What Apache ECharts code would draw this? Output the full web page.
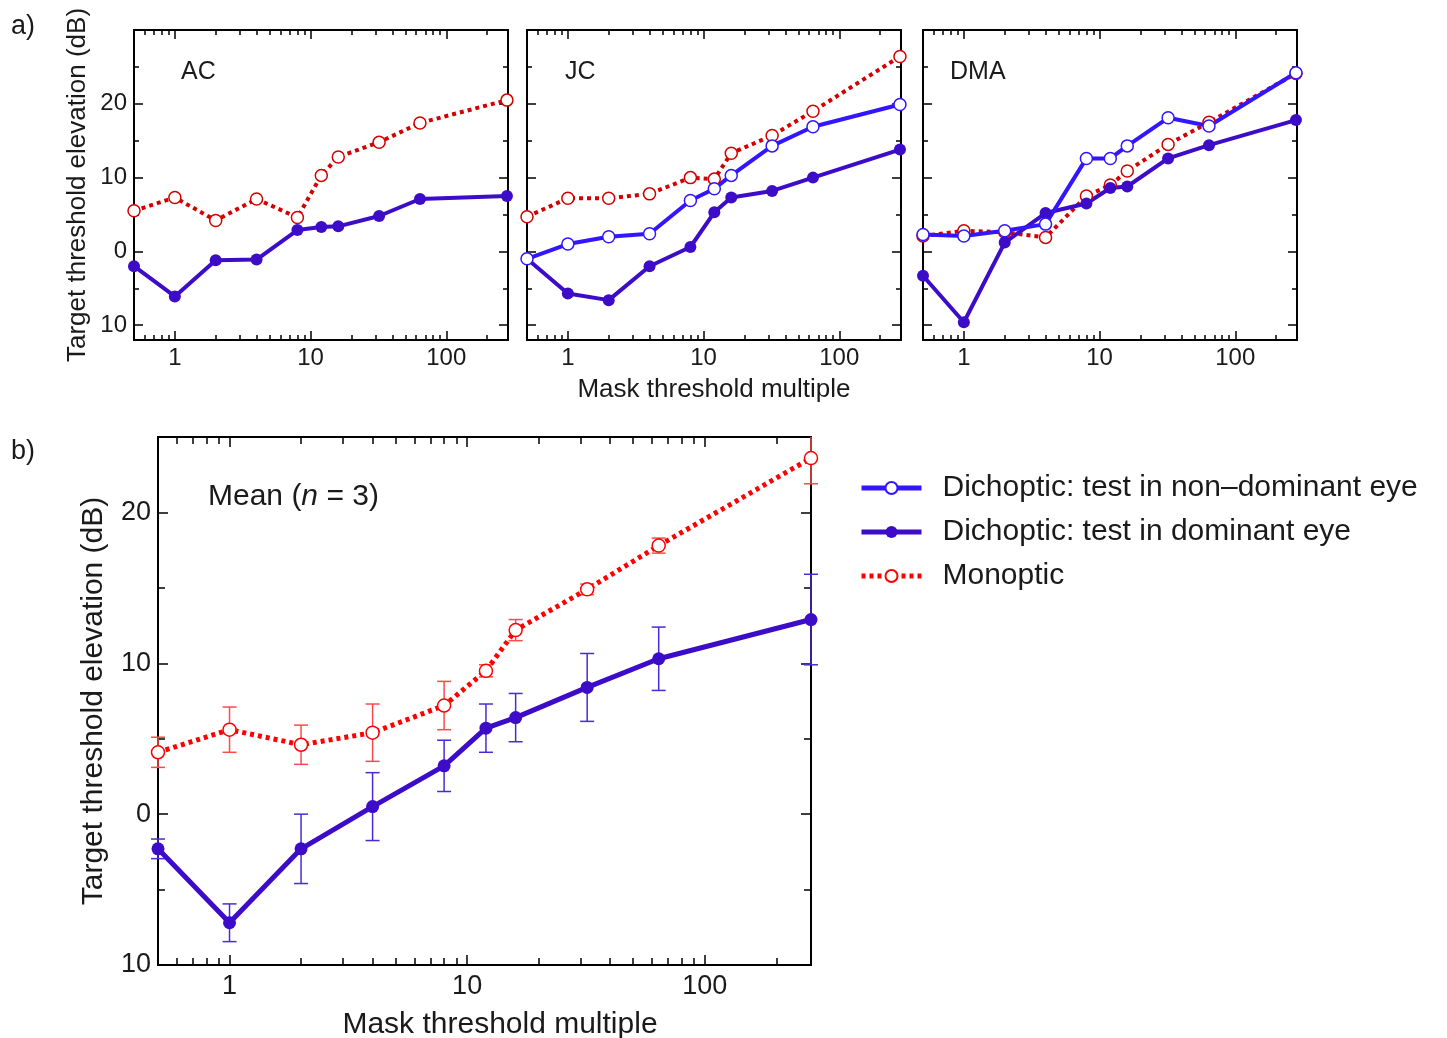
<!DOCTYPE html>
<html>
<head>
<meta charset="utf-8">
<script src="https://cdn.jsdelivr.net/npm/echarts@6/dist/echarts.min.js"></script>
<style>
html,body{margin:0;padding:0;background:#fff}
#chart{width:1447px;height:1038px}
</style>
</head>
<body>
<div id="chart"></div>
<script>
// mask threshold multiples (x), same for every panel
const maskMultiple = [0.5, 1, 2, 4, 8, 12, 16, 32, 64, 280];

// panel a) individual observers, target threshold elevation (dB)
const acMono   = [5.5, 7.3, 4.2, 7.1, 4.6, 10.3, 12.8, 14.8, 17.4, 20.5];
const acDom    = [-2.0, -6.1, -1.2, -1.1, 2.9, 3.3, 3.4, 4.8, 7.1, 7.5];
const jcMono   = [4.7, 7.2, 7.2, 7.8, 10.0, 9.8, 13.3, 15.7, 19.0, 26.4];
const jcNonDom = [-1.0, 1.0, 2.0, 2.4, 6.9, 8.5, 10.3, 14.3, 16.9, 19.9];
const jcDom    = [-1.0, -5.7, -6.6, -2.0, 0.6, 5.3, 7.3, 8.2, 10.0, 13.8];
const dmaMono   = [2.1, 2.8, 2.6, 1.9, 7.5, 9.0, 10.9, 14.5, 17.5, 24.1];
const dmaNonDom = [2.3, 2.1, 2.8, 3.7, 12.6, 12.6, 14.3, 18.1, 17.0, 24.2];
const dmaDom    = [-3.3, -9.6, 1.2, 5.2, 6.5, 8.6, 8.8, 12.6, 14.4, 17.8];

// panel b) mean of 3 with error bars
const meanMono    = [4.1, 5.6, 4.6, 5.4, 7.2, 9.5, 12.2, 14.9, 17.8, 23.6];
const meanMonoErr = [1.0, 1.5, 1.3, 1.9, 1.6, 0.4, 0.7, 0.35, 0.5, 1.7];
const meanDom     = [-2.3, -7.2, -2.3, 0.5, 3.2, 5.7, 6.4, 8.4, 10.3, 12.9];
const meanDomErr  = [0.65, 1.25, 2.3, 2.25, 1.7, 1.6, 1.6, 2.25, 2.1, 3.0];

// ticks
const xMajor = [1, 10, 100];
const xMinor = [0.6, 0.7, 0.8, 0.9, 2, 3, 4, 5, 6, 7, 8, 9, 20, 30, 40, 50, 60, 70, 80, 90, 200];
const yMajor = [-10, 0, 10, 20];
const yMinor = [-5, 5, 15, 25];

const NAME_NON = 'Dichoptic: test in non\u2013dominant eye';
const NAME_DOM = 'Dichoptic: test in dominant eye';
const NAME_MONO = 'Monoptic';

const FONT = '"Liberation Sans", Arial, Helvetica, sans-serif';
const TXT = '#1a1a1a';
const BLUE_NON = '#3116ff';
const BLUE_DOM = '#3c0cc8';

const xAxis = [];
const yAxis = [];
const log = Math.log10;

function addFrame(gi, o) {
  const xi = xAxis.length, yi = yAxis.length;
  ['bottom', 'top'].forEach(function (pos) {
    [[xMajor, o.majorLen], [xMinor, o.minorLen]].forEach(function (t, k) {
      const main = pos === 'bottom' && k === 0;
      xAxis.push({
        type: 'value', gridIndex: gi, position: pos,
        min: log(0.5), max: log(o.xMax),
        axisLine: {show: false, onZero: false},
        splitLine: {show: false},
        axisTick: {show: true, inside: true, length: t[1], customValues: t[0].map(log),
          lineStyle: {color: '#000', width: 1.5}},
        axisLabel: {show: main, customValues: xMajor.map(log), margin: o.xLabelMargin,
          fontSize: o.fontSize, fontFamily: FONT, color: TXT,
          formatter: function (v) { return String(Math.round(Math.pow(10, v))); }},
        name: main && o.xName ? o.xName : '',
        nameLocation: 'middle', nameGap: o.xNameGap,
        nameTextStyle: {fontSize: o.nameSize, fontFamily: FONT, color: TXT, padding: o.xNamePad || 0}
      });
    });
  });
  ['left', 'right'].forEach(function (pos) {
    [[yMajor, o.majorLen], [o.yMinor, o.minorLen]].forEach(function (t, k) {
      const main = pos === 'left' && k === 0;
      yAxis.push({
        type: 'value', gridIndex: gi, position: pos,
        min: o.yMin, max: o.yMax,
        axisLine: {show: false, onZero: false},
        splitLine: {show: false},
        axisTick: {show: true, inside: true, length: t[1], customValues: t[0],
          lineStyle: {color: '#000', width: 1.5}},
        axisLabel: {show: main && o.yLabels, customValues: yMajor, margin: o.yLabelMargin,
          fontSize: o.fontSize, fontFamily: FONT, color: TXT,
          formatter: function (v) { return String(Math.abs(v)); }},
        name: main && o.yName ? o.yName : '',
        nameLocation: 'middle', nameGap: o.yNameGap,
        nameTextStyle: {fontSize: o.nameSize, fontFamily: FONT, color: TXT}
      });
    });
  });
  return {x: xi, y: yi};
}

const small = {xMax: 285, yMin: -12, yMax: 30, yMinor: yMinor, majorLen: 9, minorLen: 5,
  fontSize: 24, nameSize: 26, xLabelMargin: 6, yLabelMargin: 7, yLabels: false};
const fA = addFrame(0, Object.assign({}, small, {yLabels: true,
  yName: 'Target threshold elevation (dB)', yNameGap: 43}));
const fJ = addFrame(1, Object.assign({}, small, {xName: 'Mask threshold multiple', xNameGap: 37}));
const fD = addFrame(2, small);
const fB = addFrame(3, {xMax: 280, yMin: -10, yMax: 25, yMinor: [-5, 5, 15], majorLen: 10, minorLen: 7,
  fontSize: 27, nameSize: 30, xLabelMargin: 8, yLabelMargin: 7, yLabels: true,
  xName: 'Mask threshold multiple', xNameGap: 45, xNamePad: [0, 0, 0, 31],
  yName: 'Target threshold elevation (dB)', yNameGap: 49});

function pts(vals) {
  return maskMultiple.map(function (m, i) { return [log(m), vals[i]]; });
}

function lineSeries(name, frame, vals, kind, big) {
  const lw = big ? 5 : 4;
  const size = big ? 13 : 12;
  let color, dash = 'solid', fill, border = 0;
  if (kind === 'mono') { color = big ? '#ff0000' : '#d40000'; dash = [4, 4]; fill = '#fff'; border = 1.5; }
  else if (kind === 'non') { color = BLUE_NON; fill = '#fff'; border = 1.5; }
  else { color = BLUE_DOM; fill = BLUE_DOM; }
  return {
    type: 'line', name: name, xAxisIndex: frame.x, yAxisIndex: frame.y,
    data: pts(vals), symbol: 'circle', symbolSize: size,
    lineStyle: {color: color, width: lw, type: dash, cap: 'butt'},
    itemStyle: {color: fill, borderColor: color, borderWidth: border},
    emphasis: {disabled: true}, z: 3
  };
}

function errorSeries(frame, vals, errs, color, yMax) {
  return {
    type: 'custom', xAxisIndex: frame.x, yAxisIndex: frame.y, z: 2,
    data: maskMultiple.map(function (m, i) { return [log(m), vals[i], errs[i]]; }),
    encode: {x: 0, y: 1},
    renderItem: function (params, api) {
      const x = api.value(0), y = api.value(1), e = api.value(2);
      const hiVal = Math.min(y + e, yMax);
      const pHi = api.coord([x, hiVal]);
      const pLo = api.coord([x, y - e]);
      const w = 7;
      const style = {stroke: color, lineWidth: 1.5, fill: null};
      const children = [
        {type: 'line', shape: {x1: pHi[0], y1: pHi[1], x2: pLo[0], y2: pLo[1]}, style: style},
        {type: 'line', shape: {x1: pLo[0] - w, y1: pLo[1], x2: pLo[0] + w, y2: pLo[1]}, style: style}
      ];
      if (y + e <= yMax) {
        children.push({type: 'line', shape: {x1: pHi[0] - w, y1: pHi[1], x2: pHi[0] + w, y2: pHi[1]}, style: style});
      }
      return {type: 'group', children: children};
    }
  };
}

const series = [
  lineSeries(NAME_MONO, fB, meanMono, 'mono', true),
  lineSeries(NAME_DOM, fB, meanDom, 'dom', true),
  errorSeries(fB, meanMono, meanMonoErr, '#ff4a4a', 25),
  errorSeries(fB, meanDom, meanDomErr, '#4a2ad6', 25),
  lineSeries(NAME_MONO, fA, acMono, 'mono'),
  lineSeries(NAME_DOM, fA, acDom, 'dom'),
  lineSeries(NAME_MONO, fJ, jcMono, 'mono'),
  lineSeries(NAME_DOM, fJ, jcDom, 'dom'),
  lineSeries(NAME_NON, fJ, jcNonDom, 'non'),
  lineSeries(NAME_MONO, fD, dmaMono, 'mono'),
  lineSeries(NAME_DOM, fD, dmaDom, 'dom'),
  lineSeries(NAME_NON, fD, dmaNonDom, 'non')
];

const gridStyle = {show: true, borderColor: '#000', borderWidth: 2, backgroundColor: 'transparent',
  containLabel: false, outerBoundsMode: 'none'};
const titleText = {fontWeight: 'normal', fontFamily: FONT, color: TXT};

const option = {
  animation: false,
  backgroundColor: '#fff',
  textStyle: {fontFamily: FONT},
  title: [
    {text: 'a)', left: 6, top: 8, textStyle: Object.assign({fontSize: 27}, titleText)},
    {text: 'b)', left: 6, top: 433, textStyle: Object.assign({fontSize: 27}, titleText)},
    {text: 'AC', left: 176, top: 55, textStyle: Object.assign({fontSize: 25}, titleText)},
    {text: 'JC', left: 560, top: 55, textStyle: Object.assign({fontSize: 25}, titleText)},
    {text: 'DMA', left: 945, top: 55, textStyle: Object.assign({fontSize: 25}, titleText)},
    {text: 'Mean ({i|n} = 3)', left: 203, top: 477,
      textStyle: Object.assign({fontSize: 30, rich: {i: Object.assign({fontSize: 30, fontStyle: 'italic'}, titleText)}}, titleText)}
  ],
  legend: {
    orient: 'vertical', left: 859, top: 473, padding: 0,
    itemWidth: 60, itemHeight: 15, itemGap: 14,
    selectedMode: false,
    lineStyle: {width: 5},
    data: [NAME_NON, NAME_DOM, NAME_MONO],
    textStyle: {fontSize: 30, fontFamily: FONT, color: TXT, padding: [0, 0, 0, 16]}
  },
  grid: [
    Object.assign({left: 134, top: 30, width: 374, height: 310}, gridStyle),
    Object.assign({left: 527, top: 30, width: 374, height: 310}, gridStyle),
    Object.assign({left: 923, top: 30, width: 374, height: 310}, gridStyle),
    Object.assign({left: 158, top: 437, width: 653, height: 528}, gridStyle)
  ],
  xAxis: xAxis,
  yAxis: yAxis,
  series: series
};

const chart = echarts.init(document.getElementById('chart'));
chart.setOption(option);
</script>
</body>
</html>
